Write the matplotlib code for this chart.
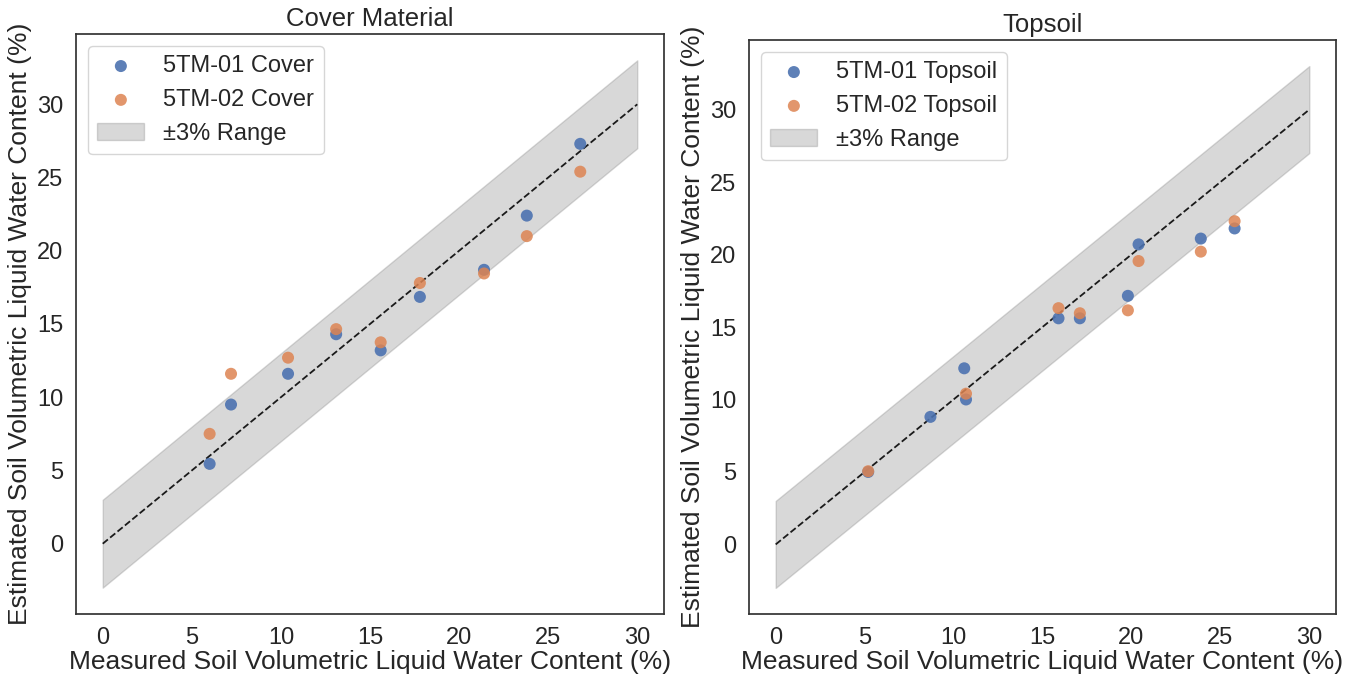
import numpy as np
import matplotlib.pyplot as plt
import seaborn as sns

sns.set_theme(style="white")
plt.rcParams['font.family'] = ['Liberation Sans', 'DejaVu Sans']

# Cover material data
cover_meas = [6.0, 7.2, 10.4, 13.1, 15.6, 17.8, 21.4, 23.8, 26.8]
cover_01 = [5.45, 9.5, 11.6, 14.3, 13.2, 16.85, 18.7, 22.4, 27.3]
cover_02 = [7.5, 11.6, 12.7, 14.65, 13.75, 17.8, 18.45, 21.0, 25.4]

# Topsoil data
top_meas_01 = [5.2, 8.7, 10.6, 10.7, 15.9, 17.1, 19.8, 20.4, 23.9, 25.8]
top_01 = [5.0, 8.8, 12.15, 10.0, 15.6, 15.6, 17.15, 20.7, 21.1, 21.8]
top_meas_02 = [5.2, 10.7, 15.9, 17.1, 19.8, 20.4, 23.9, 25.8]
top_02 = [5.05, 10.4, 16.3, 15.95, 16.15, 19.55, 20.2, 22.3]

blue = '#4c72b0'
orange = '#dd8452'

fig = plt.figure(figsize=(13.48, 6.76), dpi=100)
ax1 = fig.add_axes([76/1348, 62/676, 588/1348, 580/676])
ax2 = fig.add_axes([749/1348, 62/676, 587/1348, 574/676])

panels = [
    (ax1, 'Cover Material', cover_meas, cover_01, cover_meas, cover_02, 'Cover'),
    (ax2, 'Topsoil', top_meas_01, top_01, top_meas_02, top_02, 'Topsoil'),
]

line = np.array([0, 30])
for ax, title, x1, y1, x2, y2, name in panels:
    ax.fill_between(line, line - 3, line + 3, color='gray', alpha=0.3, label='±3% Range')
    ax.plot(line, line, 'k--', linewidth=1.3)
    ax.scatter(x1, y1, s=75, color=blue, edgecolor='none', alpha=0.9, label=f'5TM-01 {name}', zorder=3)
    ax.scatter(x2, y2, s=75, color=orange, edgecolor='none', alpha=0.85, label=f'5TM-02 {name}', zorder=3)
    ax.set_title(title, fontsize=18.5)
    ax.set_xlabel('Measured Soil Volumetric Liquid Water Content (%)', fontsize=19, labelpad=1)
    ax.set_ylabel('Estimated Soil Volumetric Liquid Water Content (%)', fontsize=19)
    ax.set_xticks(range(0, 31, 5))
    ax.set_yticks(range(0, 31, 5))
    ax.tick_params(labelsize=17, pad=3)
    for s in ax.spines.values():
        s.set_color('#333333')
    h, l = ax.get_legend_handles_labels()
    ax.legend([h[1], h[2], h[0]], [l[1], l[2], l[0]], loc='upper left', fontsize=17)

fig.savefig('out.png', dpi=100)
